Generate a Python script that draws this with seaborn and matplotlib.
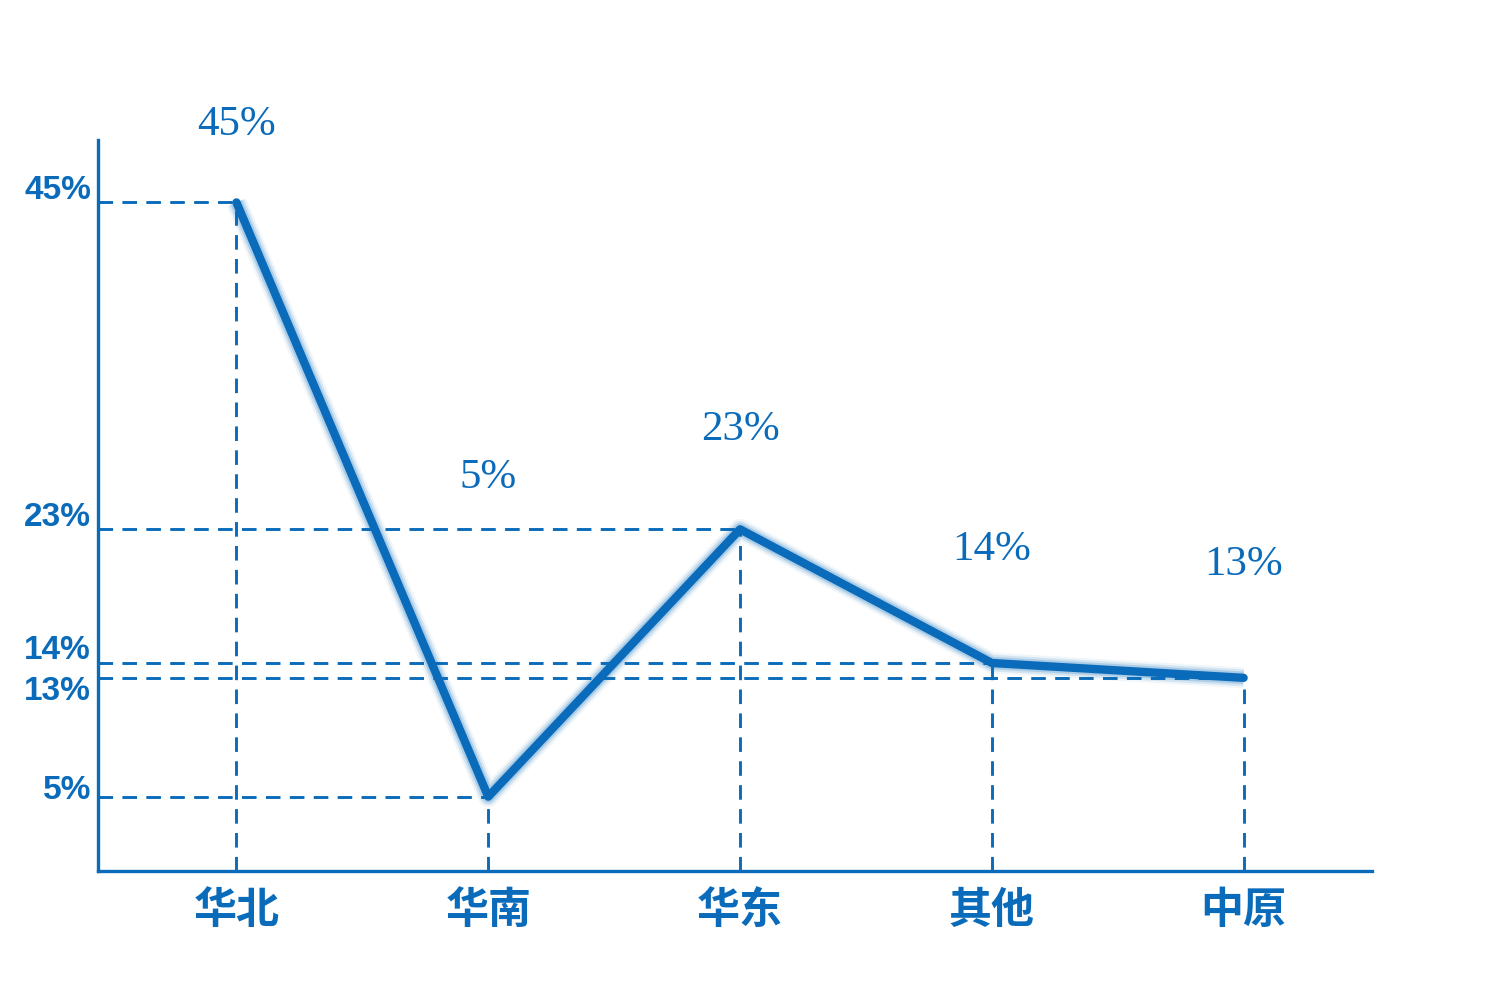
import pandas as pd
import seaborn as sns
import matplotlib.pyplot as plt
from matplotlib import font_manager

# ---------------------------------------------------------
# DADES
# ---------------------------------------------------------
regions = ['华北', '华南', '华东', '其他', '中原']
shares = [45, 5, 23, 14, 13]
label_y = [50.2, 26.5, 29.7, 21.6, 20.6]      # alçada de les etiquetes superiors
tick_shift = [12, 6, 12, 12, -14]             # desplaçament (px) de les etiquetes de l'eix Y

BLUE = '#0A6BBA'

sns.set_style("white")
plt.rcParams['font.family'] = ['Noto Sans CJK SC', 'DejaVu Sans']


def pick_font(names):
    for n in names:
        try:
            font_manager.findfont(n, fallback_to_default=False)
            return n
        except Exception:
            pass
    return 'DejaVu Sans'


NARROW = pick_font(['Liberation Sans Narrow', 'Liberation Sans'])
SERIF = pick_font(['Liberation Serif', 'DejaVu Serif'])

df = pd.DataFrame({'x': range(len(regions)), 'share': shares})

fig = plt.figure(figsize=(15, 10), dpi=100)
ax = fig.add_axes([0.0653, 0.129, 0.8494, 0.731])

# Línies de guia discontínues
for i, v in enumerate(shares):
    ax.plot([-0.55, i], [v, v], color=BLUE, lw=2.1, dashes=(5, 3.2), zorder=1)
    ax.plot([i, i], [0, v], color=BLUE, lw=2.1, dashes=(5, 3.2), zorder=1)

# Halo suau + línia principal
for lw, a in [(15, 0.06), (12, 0.12), (9, 0.2)]:
    ax.plot(df['x'], df['share'], color=BLUE, lw=lw, alpha=a,
            solid_capstyle='butt', zorder=2)
sns.lineplot(data=df, x='x', y='share', color=BLUE, lw=6, ax=ax, zorder=3)

# Etiquetes de valor
for i, (v, ly) in enumerate(zip(shares, label_y)):
    ax.text(i, ly, f"{v}%", ha='center', va='center', fontsize=31,
            family=SERIF, color=BLUE)

# Etiquetes de l'eix Y
for v, s in zip(shares, tick_shift):
    ax.annotate(f"{v}%", xy=(0, v), xycoords=('axes fraction', 'data'),
                xytext=(-5, s * 0.72), textcoords='offset points',
                ha='right', va='center', fontsize=24, fontweight='bold',
                family=NARROW, color=BLUE)

ax.set_xlim(-0.55, 4.51)
ax.set_ylim(0, 49.2)
ax.set_xticks(range(len(regions)))
ax.set_xticklabels(regions, fontsize=31, fontweight='bold', color=BLUE)
ax.set_yticks([])
ax.tick_params(axis='x', length=0, pad=12)
ax.set_xlabel("")
ax.set_ylabel("")

for side in ['top', 'right']:
    ax.spines[side].set_visible(False)
for side in ['left', 'bottom']:
    ax.spines[side].set_color(BLUE)
    ax.spines[side].set_linewidth(2.4)

plt.savefig('out.png', dpi=100)
plt.close()
